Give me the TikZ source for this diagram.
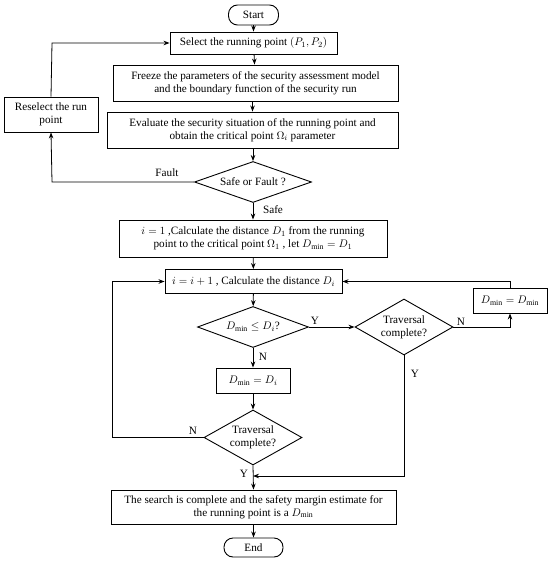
\documentclass[tikz,border=0pt]{standalone}
\usepackage{fontspec}
\setmainfont{Liberation Serif}
\usetikzlibrary{shapes.geometric,arrows.meta}
\begin{document}
\begin{tikzpicture}[x=1pt,y=-1pt,
  every node/.style={font=\fontsize{11.2}{13}\selectfont},
  proc/.style={draw,line width=0.9pt,inner sep=0pt,align=center},
  term/.style={draw,line width=0.9pt,inner sep=0pt,rounded corners=9pt,align=center},
  dec/.style={draw,line width=0.9pt,diamond,inner sep=0pt,align=center},
  lbl/.style={inner sep=0pt},
  conn/.style={line width=0.8pt,-{Stealth[length=6pt,width=4.5pt]}},
  plain/.style={line width=0.8pt}]
\useasboundingbox (0,0) rectangle (550,561);
% nodes
\node[term,minimum width=50,minimum height=20] (start) at (253.5,15) {Start};
\node[proc,minimum width=167,minimum height=22] (select) at (253.5,43) {Select the running point $(P_1,P_2)$};
\node[proc,minimum width=285,minimum height=36] (freeze) at (255.5,83) {Freeze the parameters of the security assessment model\\ and the boundary function of the security run};
\node[proc,minimum width=291,minimum height=36] (eval) at (252.5,130) {Evaluate the security situation of the running point and\\ obtain the critical point $\Omega_i$ parameter};
\node[proc,minimum width=94,minimum height=35] (resel) at (51,114.5) {Reselect the run\\ point};
\node[dec,minimum width=117,minimum height=41,aspect=2.85] (safe) at (253,182) {Safe or Fault ?};
\node[proc,minimum width=268,minimum height=37] (ione) at (253,238.5) {$i=1$ ,Calculate the distance $D_1$ from the running\\ point to the critical point $\Omega_1$ , let $D_{\min}=D_1$};
\node[proc,minimum width=177,minimum height=24] (iinc) at (253.5,281.5) {$i=i+1$ , Calculate the distance $D_i$};
\node[dec,minimum width=111,minimum height=41,aspect=2.7] (dmin) at (253,327) {$D_{\min}\le D_i$?};
\node[dec,minimum width=98,minimum height=56,aspect=1.75] (trav1) at (404,327) {Traversal\\ complete?};
\node[proc,minimum width=74,minimum height=25] (dmm) at (510,300.5) {$D_{\min}=D_{\min}$};
\node[proc,minimum width=74,minimum height=25] (di) at (253,380.5) {$D_{\min}=D_i$};
\node[dec,minimum width=98,minimum height=55,aspect=1.78] (trav2) at (253,437.5) {Traversal\\ complete?};
\node[proc,minimum width=285,minimum height=34] (final) at (253.5,507) {The search is complete and the safety margin estimate for\\ the running point is a $D_{\min}$};
\node[term,minimum width=59,minimum height=19] (end) at (253.5,547.5) {End};
% helper coordinates
\coordinate (c1) at (52,182);
\coordinate (c2) at (52,43);
\coordinate (c3) at (510,327);
\coordinate (c4) at (510,281.5);
\coordinate (c5) at (112,437.5);
\coordinate (c6) at (112,281.5);
\coordinate (c7) at (404,476);
\coordinate (c8) at (253,476);
% connectors
\draw[conn] (start) -- (select);
\draw[conn] (select) -- (freeze);
\draw[conn] (freeze.south -| eval.north) -- (eval);
\draw[conn] (eval.south -| safe.north) -- (safe);
\draw[conn] (safe.west) -- (c1) -- (resel.south);
\draw[conn] (resel.north) -- (c2) -- (select.west);
\draw[conn] (safe) -- (ione);
\draw[conn] (ione) -- (iinc);
\draw[conn] (iinc) -- (dmin);
\draw[conn] (dmin.east) -- (trav1.west);
\draw[conn] (dmin) -- (di);
\draw[conn] (trav1.east) -- (c3) -- (dmm.south);
\draw[conn] (dmm.north) -- (c4) -- (iinc.east);
\draw[conn] (di) -- (trav2);
\draw[conn] (trav2.west) -- (c5) -- (c6) -- (iinc.west);
\draw[conn] (trav2.south) -- (final.north);
\draw[conn] (trav1.south) -- (c7) -- (c8);
\draw[conn] (final) -- (end);
% labels
\node[lbl] (lfault) at (167,173) {Fault};
\node[lbl] (lsafe) at (273,210) {Safe};
\node[lbl] (ly1) at (315,321) {Y};
\node[lbl] (ln1) at (263,357) {N};
\node[lbl] (ln2) at (461,322) {N};
\node[lbl] (ly2) at (415,374) {Y};
\node[lbl] (ln3) at (193,431) {N};
\node[lbl] (ly3) at (244,474) {Y};
\end{tikzpicture}
\end{document}
